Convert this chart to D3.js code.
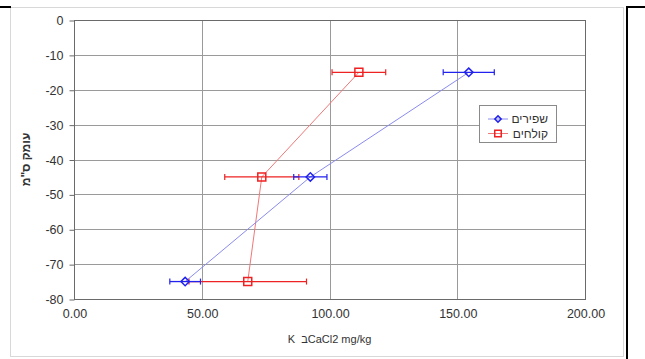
<!DOCTYPE html>
<html><head><meta charset="utf-8">
<script src="https://cdn.jsdelivr.net/npm/d3@7"></script>
<style>body{margin:0;background:#fff}svg{display:block}text{font-family:"Liberation Sans",Arial,sans-serif}</style>
</head><body><svg id="c" width="645" height="359"></svg>
<script>
const depths = [-15, -45, -75];
const seriesNames = ["שפירים", "קולחים"];
const blueValues = [154.5, 92.5, 43.5];
const blueErrors = [10, 6.5, 6];
const redValues = [111.5, 73.5, 68];
const redErrors = [10.5, 14.5, 23];
const xTicks = [0, 50, 100, 150, 200];
const yTicks = [0, -10, -20, -30, -40, -50, -60, -70, -80];
const xTitle = "K  בCaCl2 mg/kg";
const yTitle = "עומק ס\"מ";

const svg = d3.select("#c");
svg.append("rect").attr("x",10.5).attr("y",7.5).attr("width",613).attr("height",349).attr("fill","#fff").attr("stroke","#d8d8d8");
svg.append("line").attr("x1",0).attr("x2",11).attr("y1",7).attr("y2",7).attr("stroke","#000").attr("stroke-width",2);
svg.append("line").attr("x1",626).attr("x2",645).attr("y1",7).attr("y2",7).attr("stroke","#000").attr("stroke-width",2);
svg.append("line").attr("x1",627).attr("x2",627).attr("y1",6).attr("y2",359).attr("stroke","#000").attr("stroke-width",2);

const L=74, R=585, T=20, B=299;
const x = d3.scaleLinear().domain([0,200]).range([L,R]);
const y = d3.scaleLinear().domain([-80,0]).range([B,T]);

svg.append("g").selectAll("line").data(yTicks).join("line")
  .attr("x1",L).attr("x2",R).attr("y1",d=>Math.round(y(d))+0.5).attr("y2",d=>Math.round(y(d))+0.5)
  .attr("stroke","#9a9a9a");
svg.append("g").selectAll("line").data(xTicks).join("line")
  .attr("y1",T).attr("y2",B).attr("x1",d=>Math.round(x(d))+0.5).attr("x2",d=>Math.round(x(d))+0.5)
  .attr("stroke","#9a9a9a");
svg.append("rect").attr("x",L+0.5).attr("y",T+0.5).attr("width",R-L).attr("height",B-T)
  .attr("fill","none").attr("stroke","#6a6a6a");

const yAxis = d3.axisLeft(y).tickValues(yTicks).tickSize(5).tickPadding(6).tickFormat(d=>d===0?"0":"-"+Math.abs(d));
const gy = svg.append("g").attr("transform",`translate(${L+0.5},0.5)`).call(yAxis);
const xAxis = d3.axisBottom(x).tickValues(xTicks).tickSize(0).tickPadding(10).tickFormat(d3.format(".2f"));
const gx = svg.append("g").attr("transform",`translate(0.5,${B+0.5})`).call(xAxis);
[gx,gy].forEach(g=>{g.select(".domain").remove();g.selectAll("line").attr("stroke","#6a6a6a");
  g.selectAll("text").attr("font-family","Liberation Sans, Arial").attr("font-size",12.5).attr("fill","#333");});

svg.append("text").attr("x",(L+R)/2).attr("y",343).attr("text-anchor","middle").attr("font-size",11).attr("fill","#333").attr("direction","ltr").attr("xml:space","preserve").style("white-space","pre").text(xTitle);
svg.append("text").attr("transform",`translate(30,${(T+B)/2}) rotate(-90)`).attr("text-anchor","middle")
  .attr("font-size",12).attr("font-weight","bold").attr("fill","#333").text(yTitle);

function marker(g, shape, cx, cy, color, sz){
  const isDia = shape==="diamond";
  g.append("path").attr("transform",`translate(${cx},${cy})${isDia?" rotate(45)":""}`)
    .attr("d",d3.symbol().type(d3.symbolSquare).size(sz))
    .attr("fill","none").attr("stroke",color).attr("stroke-width",1.5);
}
function drawSeries(vals, errs, color, lineColor, shape){
  const pts = vals.map((v,i)=>({x:v,y:depths[i],e:errs[i]}));
  svg.append("path").datum(pts).attr("fill","none").attr("stroke",lineColor).attr("stroke-width",1)
    .attr("d",d3.line().x(d=>x(d.x)).y(d=>y(d.y)));
  const g = svg.append("g");
  pts.forEach(p=>{
    const yy=y(p.y);
    g.append("line").attr("x1",x(p.x-p.e)).attr("x2",x(p.x+p.e)).attr("y1",yy).attr("y2",yy).attr("stroke",color).attr("stroke-width",1.3);
    [p.x-p.e,p.x+p.e].forEach(v=>g.append("line").attr("x1",x(v)).attr("x2",x(v)).attr("y1",yy-3).attr("y2",yy+3).attr("stroke",color).attr("stroke-width",1.2));
  });
  pts.forEach(p=>marker(g, shape, x(p.x), y(p.y), color, shape==="diamond"?36:64));
}
drawSeries(redValues, redErrors, "#ee2222", "#f07878", "square");
drawSeries(blueValues, blueErrors, "#2222ee", "#8a8af0", "diamond");

const lg = svg.append("g");
lg.append("rect").attr("x",479.5).attr("y",105.5).attr("width",77).attr("height",37).attr("fill","#fff").attr("stroke","#8a8a8a");
const leg = [{n:seriesNames[0],c:"#2222ee",lc:"#8a8af0",s:"diamond",sz:20},{n:seriesNames[1],c:"#ee2222",lc:"#f07878",s:"square",sz:42}];
leg.forEach((d,i)=>{
  const yy=119+i*14.5;
  lg.append("line").attr("x1",488).attr("x2",508).attr("y1",yy).attr("y2",yy).attr("stroke",d.lc);
  marker(lg, d.s, 498, yy, d.c, d.sz);
  lg.append("text").attr("x",548).attr("y",yy+4).attr("text-anchor","end").attr("font-size",12).attr("fill","#333").text(d.n);
});
</script></body></html>
